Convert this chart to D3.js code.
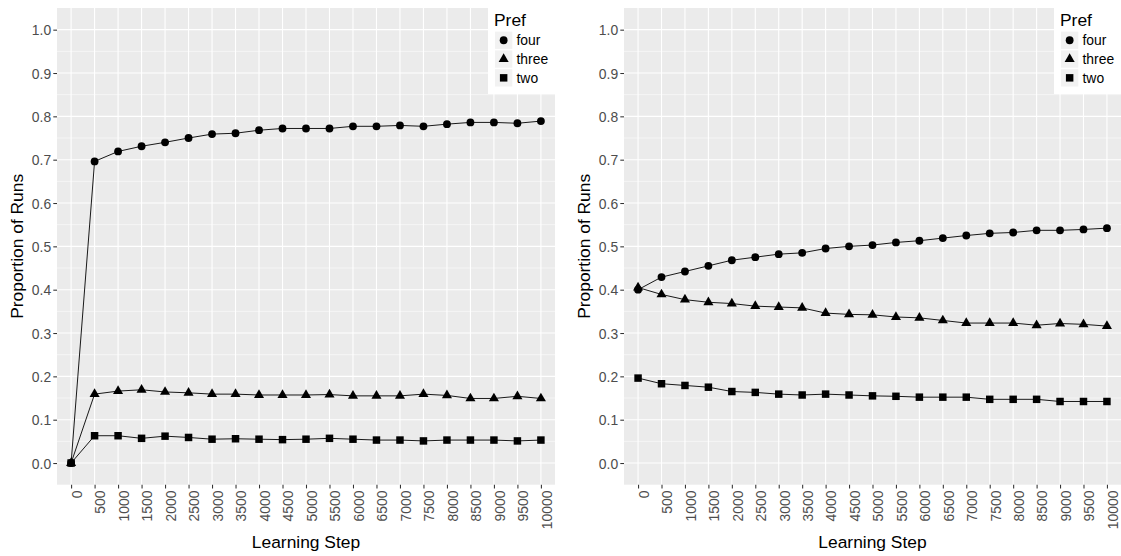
<!DOCTYPE html>
<html>
<head>
<meta charset="utf-8">
<script src="https://cdn.jsdelivr.net/npm/d3@7"></script>
<style>
  html, body { margin: 0; padding: 0; background: #ffffff; }
  svg { display: block; }
  text { font-family: "Liberation Sans", Arial, Helvetica, sans-serif; }
</style>
</head>
<body>
<svg id="chart" width="1121" height="556"></svg>
<script>
// ---------- data ----------
const steps = ["0","500","1000","1500","2000","2500","3000","3500","4000","4500","5000",
               "5500","6000","6500","7000","7500","8000","8500","9000","9500","10000"];
const seriesNames = ["four", "three", "two"];
const yTicks = [0.0, 0.1, 0.2, 0.3, 0.4, 0.5, 0.6, 0.7, 0.8, 0.9, 1.0];

// left panel
const leftFour  = [0.000,0.696,0.719,0.731,0.740,0.750,0.759,0.761,0.768,0.772,0.772,
                   0.772,0.777,0.777,0.779,0.777,0.782,0.786,0.786,0.784,0.789];
const leftThree = [0.000,0.159,0.166,0.169,0.164,0.162,0.159,0.159,0.157,0.157,0.157,
                   0.158,0.155,0.155,0.155,0.159,0.156,0.149,0.149,0.154,0.149];
const leftTwo   = [0.000,0.063,0.063,0.057,0.062,0.059,0.055,0.056,0.055,0.054,0.055,
                   0.057,0.055,0.053,0.053,0.051,0.053,0.053,0.053,0.051,0.053];

// right panel
const rightFour  = [0.400,0.429,0.442,0.455,0.468,0.475,0.482,0.485,0.495,0.500,0.503,
                    0.509,0.513,0.519,0.525,0.530,0.532,0.537,0.537,0.539,0.542];
const rightThree = [0.405,0.389,0.377,0.371,0.368,0.362,0.360,0.358,0.346,0.343,0.342,
                    0.337,0.335,0.329,0.323,0.323,0.323,0.318,0.322,0.320,0.316];
const rightTwo   = [0.196,0.183,0.179,0.175,0.165,0.163,0.159,0.157,0.159,0.157,0.155,
                    0.154,0.152,0.152,0.152,0.147,0.147,0.147,0.142,0.142,0.142];

const xTitle = "Learning Step";
const yTitle = "Proportion of Runs";
const legendTitle = "Pref";

// ---------- drawing ----------
const svg = d3.select("#chart");
const shapes = { four: d3.symbolCircle, three: d3.symbolTriangle, two: d3.symbolSquare };
const shapeSize = { four: 48, three: 44, two: 56 };
const tickFont = "13.9px", titleFont = "17.4px";

function drawPanel(left, right, data) {
  const top = 8, bottom = 484.7;
  const x = d3.scalePoint().domain(steps).range([left, right]).padding(0.6);
  const y = d3.scaleLinear().domain([-0.05, 1.05]).range([bottom, top]);
  const g = svg.append("g");

  g.append("rect").attr("x", left).attr("y", top)
    .attr("width", right - left).attr("height", bottom - top).attr("fill", "#EBEBEB");

  const minor = d3.range(0.05, 1.0, 0.1);
  g.selectAll("line.minor").data(minor).join("line")
    .attr("x1", left).attr("x2", right)
    .attr("y1", d => y(d)).attr("y2", d => y(d))
    .attr("stroke", "#fff").attr("stroke-width", 0.55);
  g.selectAll("line.majy").data(yTicks).join("line")
    .attr("x1", left).attr("x2", right)
    .attr("y1", d => y(d)).attr("y2", d => y(d))
    .attr("stroke", "#fff").attr("stroke-width", 1.1);
  g.selectAll("line.majx").data(steps).join("line")
    .attr("x1", d => x(d)).attr("x2", d => x(d))
    .attr("y1", top).attr("y2", bottom)
    .attr("stroke", "#fff").attr("stroke-width", 1.1);

  // axes
  const ya = g.append("g").attr("transform", `translate(${left},0)`)
    .call(d3.axisLeft(y).tickValues(yTicks).tickFormat(d3.format(".1f")).tickSize(3.7).tickPadding(2.2));
  ya.select(".domain").remove();
  ya.selectAll(".tick line").attr("stroke", "#333333").attr("stroke-width", 1.07);
  ya.selectAll(".tick text").attr("fill", "#4D4D4D").style("font-size", tickFont)
    .attr("font-family", "Liberation Sans, Arial, sans-serif").attr("dy", "0.36em");

  const xa = g.append("g").attr("transform", `translate(0,${bottom})`)
    .call(d3.axisBottom(x).tickSize(3.7).tickPadding(2.2));
  xa.select(".domain").remove();
  xa.selectAll(".tick line").attr("stroke", "#333333").attr("stroke-width", 1.07);
  xa.selectAll(".tick text").attr("fill", "#4D4D4D").style("font-size", tickFont)
    .attr("font-family", "Liberation Sans, Arial, sans-serif")
    .attr("text-anchor", "end")
    .attr("transform", "translate(0,5.9) rotate(-90)")
    .attr("x", 0).attr("y", 0).attr("dy", "0.74em");

  // titles
  svg.append("text").attr("x", (left + right) / 2).attr("y", 548.3)
    .attr("text-anchor", "middle").style("font-size", titleFont).attr("fill", "#000")
    .text(xTitle);
  svg.append("text")
    .attr("transform", `translate(${left - 34.3},${(top + bottom) / 2}) rotate(-90)`)
    .attr("text-anchor", "middle").style("font-size", titleFont).attr("fill", "#000")
    .text(yTitle);

  // lines and points
  const line = d3.line().x((d, i) => x(steps[i])).y(d => y(d));
  seriesNames.forEach(name => {
    g.append("path").datum(data[name]).attr("d", line)
      .attr("fill", "none").attr("stroke", "#000").attr("stroke-width", 0.9);
  });
  seriesNames.forEach(name => {
    const sym = d3.symbol().type(shapes[name]).size(shapeSize[name]);
    g.selectAll(null).data(data[name]).join("path")
      .attr("d", sym)
      .attr("transform", (d, i) => `translate(${x(steps[i])},${y(d)})`)
      .attr("fill", "#000");
  });

  // legend (inside top-right)
  const lw = 67, lh = 86;
  const lg = svg.append("g").attr("transform", `translate(${right - lw},${top})`);
  lg.append("rect").attr("width", lw).attr("height", lh).attr("fill", "#fff");
  lg.append("text").attr("x", 6).attr("y", 18).style("font-size", titleFont).text(legendTitle);
  seriesNames.forEach((name, i) => {
    const ky = 23.6 + i * 18.8;
    lg.append("rect").attr("x", 7).attr("y", ky).attr("width", 17.3).attr("height", 17.3)
      .attr("fill", "#F2F2F2");
    lg.append("path").attr("d", d3.symbol().type(shapes[name]).size(shapeSize[name])())
      .attr("transform", `translate(${7 + 8.65},${ky + 8.65})`).attr("fill", "#000");
    lg.append("text").attr("x", 28.5).attr("y", ky + 8.65).attr("dy", "0.36em")
      .style("font-size", tickFont).text(name);
  });
}

drawPanel(57, 555, { four: leftFour, three: leftThree, two: leftTwo });
drawPanel(624, 1121, { four: rightFour, three: rightThree, two: rightTwo });
</script>
</body>
</html>
